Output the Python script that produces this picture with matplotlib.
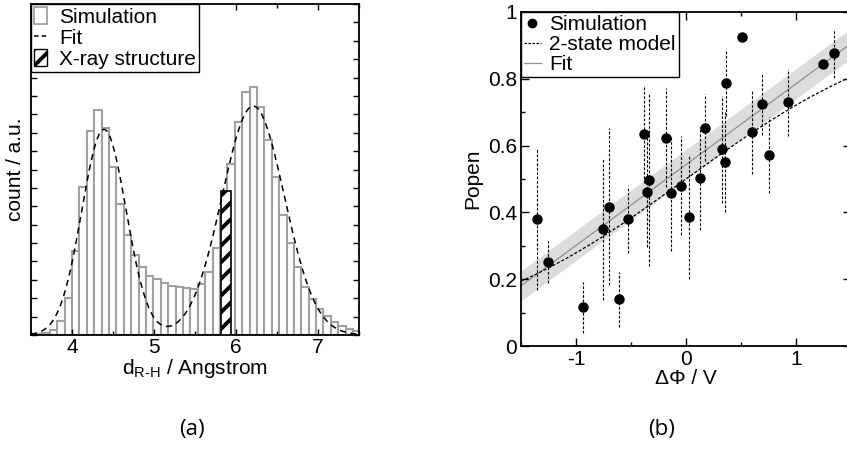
import numpy as np
import matplotlib
matplotlib.use('Agg')
import matplotlib.pyplot as plt
from matplotlib.ticker import MultipleLocator, FuncFormatter, NullFormatter
from matplotlib.patches import Patch
from matplotlib.lines import Line2D

plt.rcParams['font.family'] = ['Liberation Sans', 'DejaVu Sans']
plt.rcParams['mathtext.default'] = 'regular'
plt.rcParams['hatch.linewidth'] = 2.8

# ---- (a) histogram of d_R-H ----
bin_start = 3.459
bin_width = 0.0902
counts = [0.02, 0.04, 0.09, 0.26, 0.76, 2.01, 4.59, 8.04, 11.09, 12.23,
          11.25, 9.13, 7.12, 5.43, 4.35, 3.70, 3.21, 3.04, 2.83, 2.66,
          2.61, 2.53, 2.50, 2.77, 3.42, 4.73, 6.80, 9.29, 11.58, 13.21,
          13.48, 12.39, 10.60, 8.59, 6.52, 5.00, 3.70, 2.61, 1.96, 1.41,
          1.03, 0.71, 0.49, 0.31, 0.23]
xray_pos = 5.88
xray_width = 0.12
xray_height = 7.83
# two-gaussian fit (centre, height, sigma)
fit_centers = [4.39, 6.21]
fit_heights = [11.18, 12.45]
fit_sigmas = [0.27, 0.38]

# ---- (b) Popen vs potential ----
dphi = [-1.355, -1.258, -0.94, -0.758, -0.697, -0.609, -0.524, -0.379, -0.357,
        -0.333, -0.182, -0.133, -0.045, 0.03, 0.124, 0.173, 0.324, 0.355,
        0.364, 0.512, 0.6, 0.691, 0.752, 0.93, 1.248, 1.345]
popen = [0.379, 0.252, 0.116, 0.349, 0.417, 0.14, 0.379, 0.634, 0.462,
         0.497, 0.624, 0.457, 0.480, 0.387, 0.502, 0.654, 0.589, 0.552,
         0.788, 0.926, 0.641, 0.725, 0.572, 0.73, 0.843, 0.876]
popen_err = [0.21, 0.063, 0.077, 0.21, 0.235, 0.082, 0.10, 0.147, 0.165,
             0.257, 0.147, 0.173, 0.148, 0.186, 0.154, 0.10, 0.16, 0.15,
             0.10, 0.0, 0.125, 0.093, 0.113, 0.10, 0.0, 0.073]
lin_slope = 0.242
lin_icpt = 0.543
lin_band = 0.045
model_k = 0.95
model_v0 = 0.0

fs = 15

fig = plt.figure(figsize=(8.47, 4.5), dpi=100)
ax1 = fig.add_axes([31/847, 1-335/450, 328/847, 331/450])
ax2 = fig.add_axes([521/847, 1-346/450, 330/847, 334/450])

# histogram
edges = bin_start + bin_width*np.arange(len(counts))
ax1.bar(edges, counts, width=bin_width, align='edge', facecolor='white',
        edgecolor='#a0a0a0', linewidth=1.5)
ax1.bar(xray_pos, xray_height, width=xray_width, facecolor='white',
        edgecolor='black', hatch='//', linewidth=1.2, zorder=3)
xs = np.linspace(3.5, 7.5, 400)
fit = np.zeros_like(xs)
for c, h, s in zip(fit_centers, fit_heights, fit_sigmas):
    fit += h*np.exp(-(xs-c)**2/(2*s*s))
ax1.plot(xs, fit, color='k', lw=1.1, ls=(0, (4, 3)), zorder=4)

ax1.set_xlim(3.5, 7.5)
ax1.set_ylim(0, 18)
ax1.xaxis.set_major_locator(MultipleLocator(1))
ax1.xaxis.set_minor_locator(MultipleLocator(0.5))
ax1.yaxis.set_major_locator(MultipleLocator(1))
ax1.yaxis.set_major_formatter(NullFormatter())
ax1.set_xlabel('d$_{R\u2010H}$ / Angstrom', fontsize=fs, labelpad=0)
ax1.set_ylabel('count / a.u.', fontsize=fs, labelpad=2)

h1 = [Patch(facecolor='white', edgecolor='#9a9a9a', lw=1.2),
      Line2D([], [], color='k', lw=1.1, ls=(0, (3, 2))),
      Patch(facecolor='white', edgecolor='k', hatch='//', lw=1)]
leg1 = ax1.legend(h1, ['Simulation', 'Fit', 'X-ray structure'], loc='upper left',
                  borderaxespad=0, fancybox=False, edgecolor='black', framealpha=1,
                  fontsize=fs, handlelength=0.6, handleheight=0.9,
                  handletextpad=0.6, labelspacing=0.05, borderpad=0.15)
leg1.get_frame().set_linewidth(1.0)

# Popen panel
vx = np.linspace(-1.5, 1.5, 200)
lin = lin_icpt + lin_slope*vx
ax2.fill_between(vx, lin-lin_band, lin+lin_band, color='#dcdcdc', lw=0, zorder=1)
ax2.plot(vx, lin, color='#909090', lw=0.9, zorder=2)
model = 1.0/(1.0+np.exp(-model_k*(vx-model_v0)))
ax2.plot(vx, model, color='k', lw=0.9, ls=(0, (2.5, 1.5)), zorder=2)
eb = ax2.errorbar(dphi, popen, yerr=popen_err, fmt='o', color='k', ms=6.5,
                  elinewidth=0.8, capsize=0, zorder=3)
eb[2][0].set_linestyle((0, (2.5, 1.5)))

ax2.set_xlim(-1.5, 1.5)
ax2.set_ylim(0, 1)
ax2.xaxis.set_major_locator(MultipleLocator(1))
ax2.xaxis.set_minor_locator(MultipleLocator(0.5))
ax2.yaxis.set_major_locator(MultipleLocator(0.2))
ax2.yaxis.set_minor_locator(MultipleLocator(0.1))
fmt = FuncFormatter(lambda v, p: '%g' % round(v, 3))
ax2.xaxis.set_major_formatter(fmt)
ax2.yaxis.set_major_formatter(fmt)
ax2.set_xlabel('\u0394\u03a6 / V', fontsize=fs, labelpad=0)
ax2.set_ylabel('Popen', fontsize=fs, labelpad=4)

h2 = [Line2D([], [], marker='o', color='k', ms=6, ls='none'),
      Line2D([], [], color='k', lw=0.9, ls=(0, (2, 1.2))),
      Line2D([], [], color='#909090', lw=0.9)]
leg2 = ax2.legend(h2, ['Simulation', '2-state model', 'Fit'], loc='upper left',
                  borderaxespad=0, fancybox=False, edgecolor='black', framealpha=1,
                  fontsize=fs, handlelength=0.8, handletextpad=0.4,
                  labelspacing=0.05, borderpad=0.15)
leg2.get_frame().set_linewidth(1.0)

for ax in (ax1, ax2):
    for sp in ax.spines.values():
        sp.set_linewidth(1.3)
    ax.tick_params(which='both', direction='in', top=True, right=True,
                   labelsize=fs, width=1.0)
    ax.tick_params(which='major', length=6, pad=3)
    ax.tick_params(which='minor', length=3)
ax1.tick_params(which='major', length=4, pad=2)

fig.text(192/847, 1-430/450, '(a)', fontsize=16, family=['Open Sans', 'DejaVu Sans'],
         ha='center', va='center')
fig.text(662/847, 1-430/450, '(b)', fontsize=16, family=['Open Sans', 'DejaVu Sans'],
         ha='center', va='center')

fig.savefig('out.png', dpi=100)
